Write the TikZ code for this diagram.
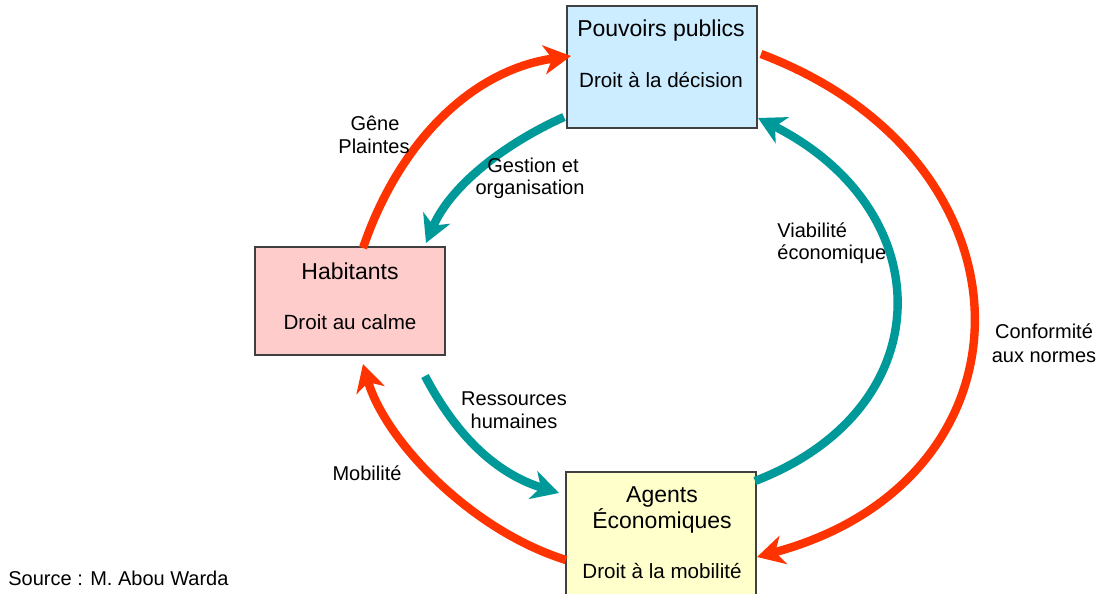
\documentclass[tikz,border=0pt]{standalone}
\usepackage{fontspec}
\setmainfont{Liberation Sans}
\usetikzlibrary{arrows.meta,calc}
\definecolor{redarr}{HTML}{FF3300}
\definecolor{tealarr}{HTML}{009999}
\definecolor{boxline}{HTML}{404040}
\definecolor{bluefill}{HTML}{CCECFF}
\definecolor{pinkfill}{HTML}{FFCCCC}
\definecolor{yellowfill}{HTML}{FFFFCC}
\begin{document}
\begin{tikzpicture}[x=0.5pt,y=-0.5pt,
  box/.style={draw=boxline, line width=1pt, inner sep=0pt},
  flow/.style={line width=4.2pt, -{Stealth[length=13.5pt,width=14.5pt,inset=4pt]}},
  redflow/.style={flow, draw=redarr},
  tealflow/.style={flow, draw=tealarr},
  title/.style={anchor=base, font=\fontsize{11.5}{13}\selectfont, inner sep=0pt},
  sub/.style={anchor=base, font=\fontsize{10.3}{12}\selectfont, inner sep=0pt},
  lab/.style={anchor=base, font=\fontsize{10}{12}\selectfont, inner sep=0pt}]
\clip (0,0) rectangle (1104,594);
\fill[white] (0,0) rectangle (1104,594);

% boxes
\node[box, fill=bluefill, minimum width=95pt, minimum height=61pt] (pp) at (662,67) {};
\node[box, fill=pinkfill, minimum width=95pt, minimum height=54pt] (hab) at (350,301) {};
\node[box, fill=yellowfill, minimum width=95pt, minimum height=64pt] (ag) at (661,536) {};

% box texts
\node[title] (ppt) at (661,36) {Pouvoirs publics};
\node[sub] (pps) at (661,87) {Droit à la décision};
\node[title] (habt) at (350,279) {Habitants};
\node[sub] (habs) at (350,329) {Droit au calme};
\node[title] (agt1) at (662,502) {Agents};
\node[title] (agt2) at (662,528) {Économiques};
\node[sub] (ags) at (662,578) {Droit à la mobilité};

% red arrows
\draw[redflow] ([shift={(13,2)}]hab.north) .. controls (399,142) and (472,70) .. ([shift={(5,-11)}]pp.west);
\draw[redflow] ([shift={(3,-13)}]pp.east) .. controls (1044,161) and (1044,480) .. ([shift={(0,21)}]ag.east);
\draw[redflow] ([shift={(1,24)}]ag.west) .. controls (470,530) and (385,440) .. ([shift={(13,8)}]hab.south);

% teal arrows
\draw[tealflow] ([shift={(-2,50)}]pp.west) .. controls (502,145) and (450,187) .. ([shift={(76,-3)}]hab.north);
\draw[tealflow] ([shift={(-2,-55)}]ag.east) .. controls (942,409) and (942,211) .. ([shift={(0,51)}]pp.east);
\draw[tealflow] ([shift={(75,20)}]hab.south) .. controls (455,433) and (494,473) .. ([shift={(-6,-43)}]ag.west);

% labels
\node[lab] (l1a) at (375,130) {Gêne};
\node[lab] (l1b) at (374,153) {Plaintes};
\node[lab] (l2a) at (533,172) {Gestion et};
\node[lab] (l2b) at (530,194) {organisation};
\node[lab, anchor=base west] (l3a) at (777,237) {Viabilité};
\node[lab, anchor=base west] (l3b) at (777,259) {économique};
\node[lab] (l4a) at (1044,338) {Conformité};
\node[lab] (l4b) at (1044,362) {aux normes};
\node[lab] (l5a) at (514,405) {Ressources};
\node[lab] (l5b) at (514,428) {humaines};
\node[lab] (l6) at (367,480) {Mobilité};
\node[lab, anchor=base west] (src) at (8,585) {Source : M. Abou Warda};
\end{tikzpicture}
\end{document}
